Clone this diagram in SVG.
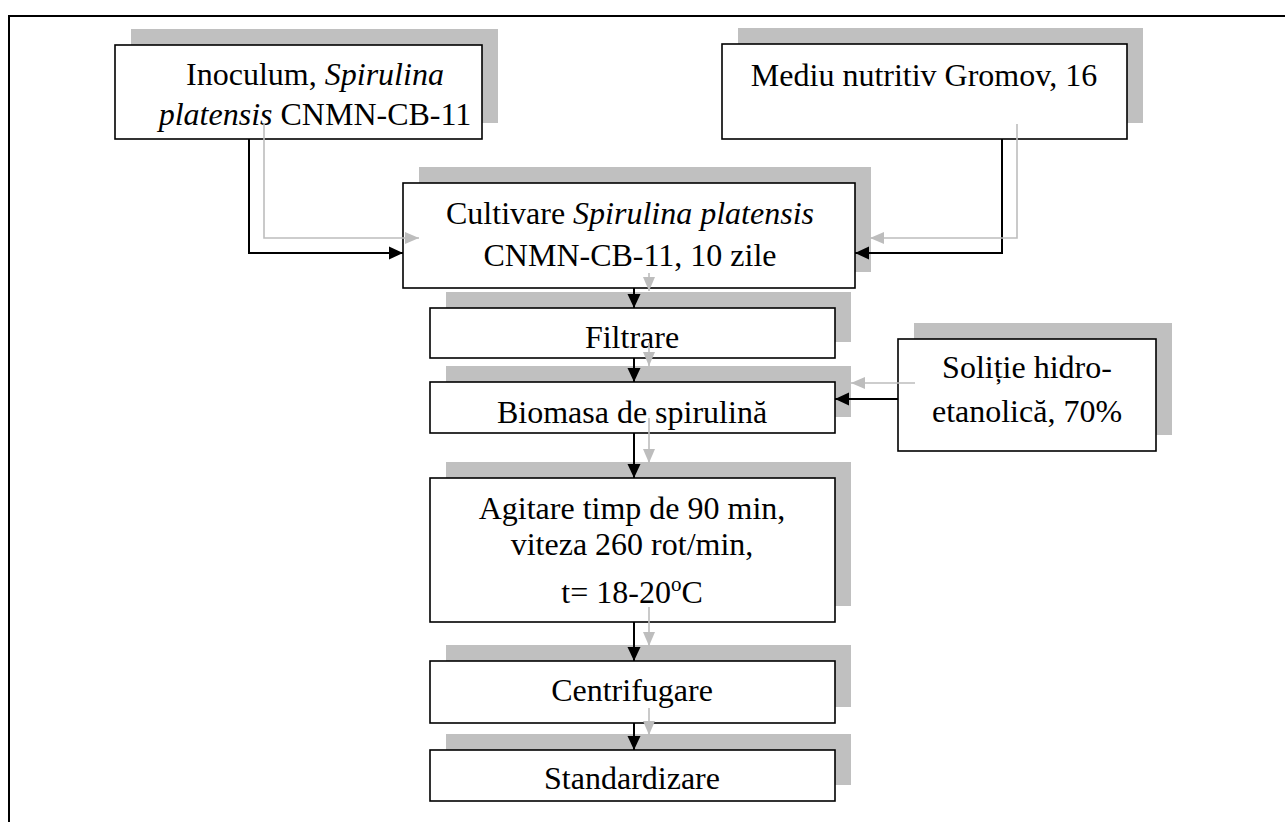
<svg xmlns="http://www.w3.org/2000/svg" width="1285" height="822" viewBox="0 0 1285 822">
<style>
.sh{fill:#c0c0c0;stroke:none}
.bx{fill:#ffffff;stroke:#000000;stroke-width:1.6}
.t{font-family:"Liberation Serif","Times New Roman",serif;font-size:32px;fill:#000000;text-anchor:middle}
.i{font-style:italic}
.cb{fill:none;stroke:#000000;stroke-width:2}
.cg{fill:none;stroke:#bdbdbd;stroke-width:1.6}
</style>
<defs>
<marker id="ab" markerUnits="userSpaceOnUse" viewBox="0 0 14 14" refX="14" refY="7" markerWidth="14" markerHeight="14" orient="auto"><path d="M0,0.5 L14,7 L0,13.5 z" fill="#000000"/></marker>
<marker id="ag" markerUnits="userSpaceOnUse" viewBox="0 0 14 14" refX="14" refY="7" markerWidth="14" markerHeight="14" orient="auto"><path d="M0,1 L14,7 L0,13 z" fill="#bdbdbd"/></marker>
</defs>
<rect x="0" y="0" width="1285" height="822" fill="#ffffff"/>
<rect x="9" y="16" width="1300" height="830" fill="none" stroke="#000000" stroke-width="2"/>

<g id="n1">
<rect class="sh" x="131" y="29" width="367" height="94"/>
<rect class="bx" x="115" y="45" width="367" height="94"/>
<text class="t" x="315" y="85">Inoculum, <tspan class="i">Spirulina</tspan></text>
<text class="t" x="315" y="125"><tspan class="i">platensis</tspan> CNMN-CB-11</text>
</g>
<g id="n2">
<rect class="sh" x="738" y="28" width="405" height="95"/>
<rect class="bx" x="722" y="44" width="405" height="95"/>
<text class="t" x="924" y="86">Mediu nutritiv Gromov, 16</text>
</g>
<g id="n3">
<rect class="sh" x="419" y="167" width="452" height="105"/>
<rect class="bx" x="403" y="183" width="452" height="105"/>
<text class="t" x="630" y="224">Cultivare <tspan class="i">Spirulina platensis</tspan></text>
<text class="t" x="630" y="266">CNMN-CB-11, 10 zile</text>
</g>
<g id="n4">
<rect class="sh" x="446" y="292" width="405" height="50"/>
<rect class="bx" x="430" y="308" width="405" height="50"/>
<text class="t" x="632" y="348">Filtrare</text>
</g>
<g id="n5">
<rect class="sh" x="446" y="366" width="405" height="51"/>
<rect class="bx" x="430" y="382" width="405" height="51"/>
<text class="t" x="632" y="423">Biomasa de spirulină</text>
</g>
<g id="n6">
<rect class="sh" x="914" y="323" width="258" height="112"/>
<rect class="bx" x="898" y="339" width="258" height="112"/>
<text class="t" x="1027" y="378">Soliție hidro-</text>
<text class="t" x="1027" y="422">etanolică, 70%</text>
</g>
<g id="n7">
<rect class="sh" x="446" y="462" width="405" height="144"/>
<rect class="bx" x="430" y="478" width="405" height="144"/>
<text class="t" x="632" y="519">Agitare timp de 90 min,</text>
<text class="t" x="632" y="555">viteza 260 rot/min,</text>
<text class="t" x="632" y="603">t= 18-20<tspan dy="-12" font-size="21">o</tspan><tspan dy="12">C</tspan></text>
</g>
<g id="n8">
<rect class="sh" x="446" y="645" width="405" height="62"/>
<rect class="bx" x="430" y="661" width="405" height="62"/>
<text class="t" x="632" y="701">Centrifugare</text>
</g>
<g id="n9">
<rect class="sh" x="446" y="734" width="405" height="51"/>
<rect class="bx" x="430" y="750" width="405" height="51"/>
<text class="t" x="632" y="789">Standardizare</text>
</g>

<g id="connectors">
<path class="cb" marker-end="url(#ab)" d="M249,139 V253 H403"/>
<path class="cb" marker-end="url(#ab)" d="M1002,139 V253 H855"/>
<path class="cb" marker-end="url(#ab)" d="M634,288 V308"/>
<path class="cb" marker-end="url(#ab)" d="M634,358 V382"/>
<path class="cb" marker-end="url(#ab)" d="M898,399 H835"/>
<path class="cb" marker-end="url(#ab)" d="M634,433 V478"/>
<path class="cb" marker-end="url(#ab)" d="M634,622 V661"/>
<path class="cb" marker-end="url(#ab)" d="M634,723 V750"/>
<path class="cg" marker-end="url(#ag)" d="M264,124 V238 H419"/>
<path class="cg" marker-end="url(#ag)" d="M1017,124 V238 H870"/>
<path class="cg" marker-end="url(#ag)" d="M649,273 V291"/>
<path class="cg" marker-end="url(#ag)" d="M649,343 V366"/>
<path class="cg" marker-end="url(#ag)" d="M915,383 H851"/>
<path class="cg" marker-end="url(#ag)" d="M649,418 V463"/>
<path class="cg" marker-end="url(#ag)" d="M649,607 V646"/>
<path class="cg" marker-end="url(#ag)" d="M649,708 V735"/>
</g>
</svg>
